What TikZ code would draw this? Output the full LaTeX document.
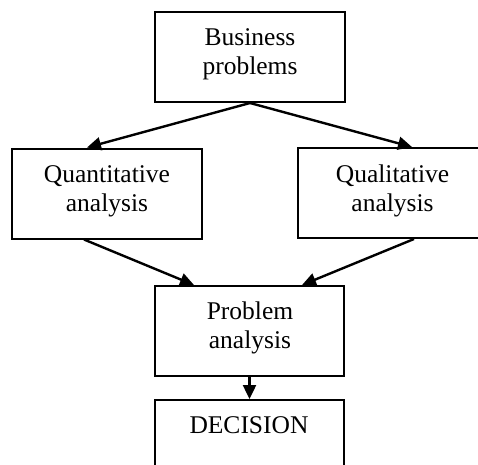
\documentclass[tikz,border=0pt]{standalone}
\usepackage{fontspec}
\setmainfont{Liberation Serif}
\usetikzlibrary{arrows.meta,calc}
\begin{document}
\begin{tikzpicture}[x=1pt,y=-1pt,
  box/.style={draw=black,line width=2pt,rectangle,inner sep=0pt,
    minimum width=190pt,minimum height=90pt},
  txt/.style={font=\fontsize{25.5pt}{29pt}\selectfont,align=center,inner sep=0pt,anchor=base},
  flow/.style={line width=2.4pt,-{Triangle[length=14pt,width=13pt]}}]
\useasboundingbox (0,0) rectangle (478,464);
\clip (0,0) rectangle (478,464);
% boxes
\node[box] (bp) at (250,57) {};
\node[box] (qa) at (107,193.5) {};
\node[box] (ql) at (393,193) {};
\node[box,minimum width=189pt] (pa) at (249.5,331) {};
\node[box,minimum width=189pt] (dc) at (249.5,445) {};
% labels (anchored at the baseline of the last line)
\node[txt] (bpt) at (250,74) {Business\\problems};
\node[txt] (qat) at (107,211) {Quantitative\\analysis};
\node[txt] (qlt) at (392.5,211) {Qualitative\\analysis};
\node[txt] (pat) at (250,348) {Problem\\analysis};
\node[txt] (dct) at (249,433) {DECISION};
% connectors
\draw[flow] (bp.south) -- ($(qa.north west)+(76,0)$);
\draw[flow] (bp.south) -- ($(ql.north west)+(115,0)$);
\draw[flow] ($(qa.south west)+(73,0)$) -- ($(pa.north west)+(40,0)$);
\draw[flow] ($(ql.south west)+(117,0)$) -- ($(pa.north west)+(148,0)$);
\draw[flow] (pa.south) -- (dc.north);
\end{tikzpicture}
\end{document}
